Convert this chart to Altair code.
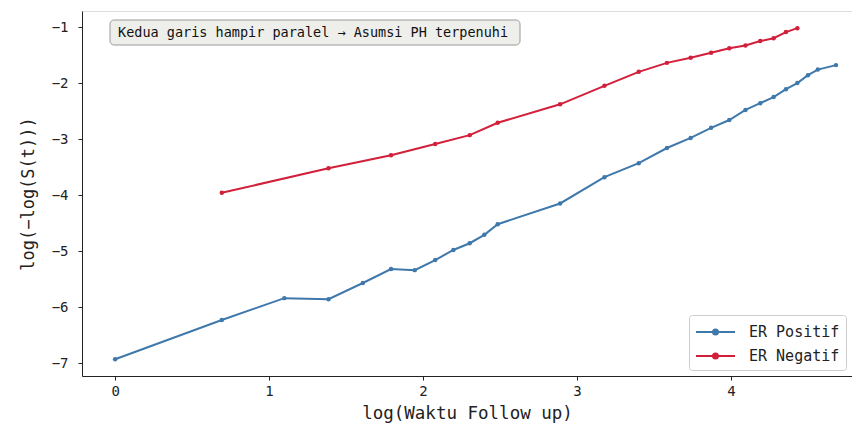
import altair as alt
import pandas as pd

# ---- data ----
series_names = ["ER Positif", "ER Negatif"]
series_colors = ["#3f78ab", "#d21f3a"]

pos_x = [0.000, 0.693, 1.099, 1.386, 1.609, 1.792, 1.946, 2.079, 2.197, 2.303,
         2.398, 2.485, 2.890, 3.178, 3.401, 3.584, 3.738, 3.871, 3.989, 4.094,
         4.190, 4.277, 4.357, 4.431, 4.500, 4.564, 4.682]
pos_y = [-6.93, -6.23, -5.84, -5.86, -5.57, -5.32, -5.34, -5.16, -4.98, -4.86,
         -4.71, -4.52, -4.15, -3.68, -3.43, -3.16, -2.98, -2.80, -2.66, -2.48,
         -2.36, -2.25, -2.11, -2.00, -1.86, -1.76, -1.68]

neg_x = [0.693, 1.386, 1.792, 2.079, 2.303, 2.485, 2.890, 3.178, 3.401, 3.584,
         3.738, 3.871, 3.989, 4.094, 4.190, 4.277, 4.357, 4.431]
neg_y = [-3.96, -3.52, -3.29, -3.09, -2.93, -2.71, -2.38, -2.05, -1.80, -1.64,
         -1.55, -1.46, -1.38, -1.33, -1.25, -1.20, -1.09, -1.02]

x_ticks = [0, 1, 2, 3, 4]
y_ticks = [-7, -6, -5, -4, -3, -2, -1]
x_title = "log(Waktu Follow up)"
y_title = "log(\u2212log(S(t)))"
note_text = ["Kedua garis hampir paralel \u2192 Asumsi PH terpenuhi"]

FONT = "DejaVu Sans Mono"

df = pd.concat([
    pd.DataFrame({"x": pos_x, "y": pos_y, "grup": series_names[0]}),
    pd.DataFrame({"x": neg_x, "y": neg_y, "grup": series_names[1]}),
])

xenc = alt.X("x:Q",
             scale=alt.Scale(domain=[-0.215, 4.786], nice=False, zero=False),
             axis=alt.Axis(values=x_ticks, title=x_title, grid=False, format="d",
                           labelFont=FONT, labelFontSize=14, titleFont=FONT,
                           titleFontSize=17.5, titleFontWeight="normal",
                           domainColor="#222222", tickColor="#222222",
                           labelColor="#222222", titleColor="#222222",
                           tickSize=4, labelPadding=4, titlePadding=6))
yenc = alt.Y("y:Q",
             scale=alt.Scale(domain=[-7.23, -0.714], nice=False, zero=False),
             axis=alt.Axis(values=y_ticks, title=y_title, grid=False, format="d",
                           labelFont=FONT, labelFontSize=14, titleFont=FONT,
                           titleFontSize=17, titleFontWeight="normal",
                           domainColor="#222222", tickColor="#222222",
                           labelColor="#222222", titleColor="#222222",
                           tickSize=4, labelPadding=10, titlePadding=14))
color = alt.Color("grup:N",
                  scale=alt.Scale(domain=series_names, range=series_colors),
                  sort=series_names,
                  legend=alt.Legend(
                      title=None, orient="bottom-right", offset=6,
                      padding=6, fillColor="rgba(255,255,255,0.85)",
                      strokeColor="#cccccc", cornerRadius=3,
                      symbolType="M-1,0H2.9M0.7,0a0.25,0.25 0 1,0 0.5,0a0.25,0.25 0 1,0 -0.5,0",
                      symbolSize=400, symbolStrokeWidth=2,
                      labelOffset=32, labelFont=FONT, labelFontSize=15,
                      labelColor="#222222", rowPadding=5))

base = alt.Chart(df)
lines = base.mark_line(strokeWidth=2).encode(x=xenc, y=yenc, color=color)
points = base.mark_circle(size=20, opacity=1).encode(x=xenc, y=yenc, color=color)

note_df = pd.DataFrame({"t": note_text})
box = alt.Chart(note_df).mark_rect(fill="#eeeeea", stroke="#9a9a9a",
                                    strokeWidth=1, cornerRadius=4).encode(
    x=alt.value(28), x2=alt.value(438), y=alt.value(9), y2=alt.value(34))
note = alt.Chart(note_df).mark_text(align="left", baseline="middle", font=FONT,
                                    fontSize=13.5, color="#111111").encode(
    x=alt.value(36), y=alt.value(22), text="t:N")

chart = alt.layer(lines, points, box, note).properties(
    width=770, height=365,
    autosize=alt.AutoSizeParams(type="none"),
    padding={"left": 74, "top": 3, "right": 0, "bottom": 50},
).configure_view(stroke="transparent").configure(background="white")

chart.save("out.html", embed_options={"renderer": "svg", "actions": False})
